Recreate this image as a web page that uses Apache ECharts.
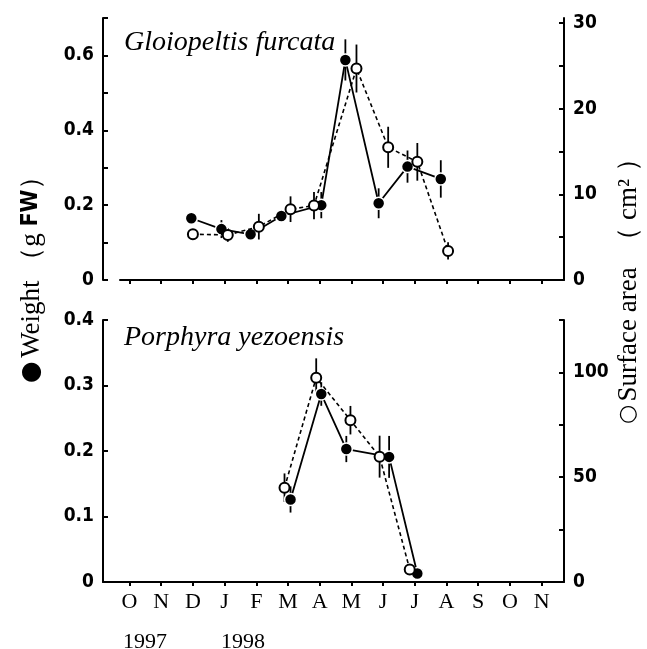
<!DOCTYPE html>
<html>
<head>
<meta charset="utf-8">
<script src="https://cdn.jsdelivr.net/npm/echarts@6/dist/echarts.min.js"></script>
<style>
  html, body { margin: 0; padding: 0; background: #fff; }
  #chart { width: 647px; height: 649px; }
</style>
</head>
<body>
<div id="chart"></div>
<script>
// 月份刻度 (0 = 1997年10月)
var months = ['O', 'N', 'D', 'J', 'F', 'M', 'A', 'M', 'J', 'J', 'A', 'S', 'O', 'N']
var monthTicks = [0, 1, 2, 3, 4, 5, 6, 7, 8, 9, 10, 11, 12, 13]

// Gloiopeltis furcata: 重量 (g FW)
var gfWeightX = [1.95, 2.9, 3.82, 4.79, 6.05, 6.81, 7.86, 8.77, 9.82]
var gfWeight = [0.165, 0.136, 0.122, 0.171, 0.2, 0.588, 0.205, 0.303, 0.27]
var gfWeightSd = [0, 0.024, 0.01, 0.01, 0.035, 0.055, 0.04, 0.043, 0.05]
// Gloiopeltis furcata: 表面积 (cm2)
var gfAreaX = [2.0, 3.1, 4.08, 5.08, 5.82, 7.16, 8.16, 9.08, 10.05]
var gfArea = [5.35, 5.26, 6.23, 8.27, 8.69, 24.7, 15.5, 13.8, 3.4]
var gfAreaSd = [0, 0.8, 1.5, 1.5, 1.6, 2.8, 2.4, 2.2, 1.0]

// Porphyra yezoensis: 重量
var pyWeightX = [5.08, 6.05, 6.84, 8.19, 9.08]
var pyWeight = [0.126, 0.287, 0.203, 0.191, 0.013]
var pyWeightSd = [0.02, 0.018, 0.02, 0.032, 0]
// Porphyra yezoensis: 表面积
var pyAreaX = [4.89, 5.89, 6.97, 7.89, 8.84]
var pyArea = [45, 97.5, 77.2, 59.8, 6.0]
var pyAreaSd = [6.8, 9.2, 6.8, 10, 0]

var tickFont = {
  fontFamily: 'DejaVu Sans Condensed, DejaVu Sans, sans-serif',
  fontWeight: 'bold',
  fontSize: 19,
  color: '#000'
}
var serif = 'Liberation Serif, DejaVu Serif, serif'

function pairs (xs, ys) {
  return xs.map(function (x, i) { return [x, ys[i]] })
}
function triples (xs, ys, es) {
  return xs.map(function (x, i) { return [x, ys[i], es[i]] })
}

// 误差线
function errorBars (xi, yi, data) {
  return {
    type: 'custom',
    xAxisIndex: xi,
    yAxisIndex: yi,
    z: 1,
    silent: true,
    data: data,
    renderItem: function (params, api) {
      var x = api.value(0)
      var y = api.value(1)
      var e = api.value(2)
      var p1 = api.coord([x, y - e])
      var p2 = api.coord([x, y + e])
      return {
        type: 'line',
        shape: { x1: p1[0], y1: p1[1], x2: p2[0], y2: p2[1] },
        style: { stroke: '#000', lineWidth: 1.8 }
      }
    }
  }
}

function weightLine (xi, yi, data) {
  return {
    type: 'line',
    xAxisIndex: xi,
    yAxisIndex: yi,
    z: 3,
    data: data,
    symbol: 'circle',
    symbolSize: 12,
    lineStyle: { color: '#000', width: 1.8 },
    itemStyle: { color: '#000', borderColor: '#fff', borderWidth: 1.5 }
  }
}

function areaLine (xi, yi, data) {
  return {
    type: 'line',
    xAxisIndex: xi,
    yAxisIndex: yi,
    z: 4,
    data: data,
    symbol: 'circle',
    symbolSize: 10,
    lineStyle: { color: '#000', width: 1.6, type: [4, 3] },
    itemStyle: { color: '#fff', borderColor: '#000', borderWidth: 2 }
  }
}

function xAxisOf (grid, min, showLabel) {
  return {
    type: 'value',
    gridIndex: grid,
    min: min,
    max: 13.707,
    splitLine: { show: false },
    axisLine: { onZero: false, lineStyle: { color: '#000', width: 2 } },
    axisTick: { customValues: monthTicks, length: 4, inside: false, lineStyle: { color: '#000', width: 2 } },
    axisLabel: {
      show: showLabel,
      customValues: monthTicks,
      formatter: function (v) { return months[Math.round(v)] },
      fontFamily: serif,
      fontSize: 22,
      color: '#000',
      margin: 9
    }
  }
}

function yAxisOf (grid, pos, max, ticks, labels, fmt, offset) {
  return {
    type: 'value',
    gridIndex: grid,
    position: pos,
    offset: offset || 0,
    min: 0,
    max: max,
    splitLine: { show: false },
    axisLine: { show: true, onZero: false, lineStyle: { color: '#000', width: 2 } },
    axisTick: { customValues: ticks, inside: true, length: 5, lineStyle: { color: '#000', width: 2 } },
    axisLabel: Object.assign({ customValues: labels, formatter: fmt, margin: 9 }, tickFont)
  }
}

var chart = echarts.init(document.getElementById('chart'))
chart.setOption({
  animation: false,
  backgroundColor: '#fff',
  title: [
    { text: 'Gloiopeltis furcata', left: 119, top: 24, textStyle: { fontFamily: serif, fontStyle: 'italic', fontWeight: 'normal', fontSize: 28, color: '#000' } },
    { text: 'Porphyra yezoensis', left: 119, top: 319, textStyle: { fontFamily: serif, fontStyle: 'italic', fontWeight: 'normal', fontSize: 28, color: '#000' } },
    { text: '1997', left: 118, top: 626, textStyle: { fontFamily: serif, fontWeight: 'normal', fontSize: 22, color: '#000' } },
    { text: '1998', left: 216, top: 626, textStyle: { fontFamily: serif, fontWeight: 'normal', fontSize: 22, color: '#000' } }
  ],
  graphic: [
    {
      type: 'text',
      x: 18,
      y: 383,
      rotation: Math.PI / 2,
      style: {
        text: '{dot|●} {t|Weight （g }{b|FW}{t|）}',
        rich: {
          dot: { fontSize: 25, fontFamily: 'DejaVu Sans', fill: '#000' },
          t: { fontSize: 27, fontFamily: serif, fill: '#000' },
          b: { fontSize: 23, fontFamily: 'DejaVu Sans Condensed, DejaVu Sans, sans-serif', fontWeight: 'bold', fill: '#000' }
        }
      }
    },
    {
      type: 'text',
      x: 615,
      y: 424,
      rotation: Math.PI / 2,
      style: {
        text: '{dot|○} {t|Surface area  （ cm² ）}',
        rich: {
          dot: { fontSize: 22, fontFamily: 'DejaVu Sans', fill: '#000' },
          t: { fontSize: 27, fontFamily: serif, fill: '#000' }
        }
      }
    }
  ],
  grid: [
    { left: 120, right: 83, top: 18, bottom: 369 },
    { left: 103, right: 83, top: 320, bottom: 67 }
  ],
  xAxis: [
    xAxisOf(0, -0.3, false),
    xAxisOf(1, -0.836, true)
  ],
  yAxis: [
    yAxisOf(0, 'left', 0.7, [0, 0.1, 0.2, 0.3, 0.4, 0.5, 0.6, 0.7], [0, 0.2, 0.4, 0.6],
      function (v) { return v === 0 ? '0' : v.toFixed(1) }, 17),
    yAxisOf(0, 'right', 30.6, [0, 5, 10, 15, 20, 25, 30], [0, 10, 20, 30],
      function (v) { return String(v) }),
    yAxisOf(1, 'left', 0.4, [0, 0.1, 0.2, 0.3, 0.4], [0, 0.1, 0.2, 0.3, 0.4],
      function (v) { return v === 0 ? '0' : v.toFixed(1) }),
    yAxisOf(1, 'right', 125, [0, 25, 50, 75, 100, 125], [0, 50, 100],
      function (v) { return String(v) })
  ],
  series: [
    errorBars(0, 0, triples(gfWeightX, gfWeight, gfWeightSd)),
    errorBars(0, 1, triples(gfAreaX, gfArea, gfAreaSd)),
    weightLine(0, 0, pairs(gfWeightX, gfWeight)),
    areaLine(0, 1, pairs(gfAreaX, gfArea)),
    errorBars(1, 2, triples(pyWeightX, pyWeight, pyWeightSd)),
    errorBars(1, 3, triples(pyAreaX, pyArea, pyAreaSd)),
    weightLine(1, 2, pairs(pyWeightX, pyWeight)),
    areaLine(1, 3, pairs(pyAreaX, pyArea))
  ]
})
</script>
</body>
</html>
